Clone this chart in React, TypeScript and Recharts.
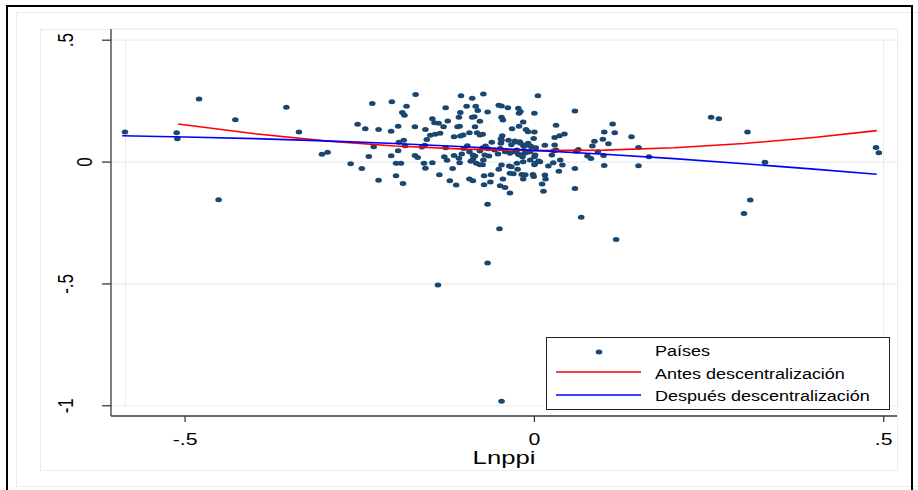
import React from 'react';
import { ScatterChart, Scatter, XAxis, YAxis, CartesianGrid } from 'recharts';

// Lnppi (x) vs. residual (y), one dot per country
const paises: [number, number][] = [
  [-0.586, 0.123], [-0.512, 0.120], [-0.511, 0.096], [-0.480, 0.259], [-0.428, 0.174], [-0.452, -0.155],
  [-0.355, 0.225], [-0.337, 0.123], [-0.304, 0.032], [-0.296, 0.040],
  [-0.170, 0.277], [-0.105, 0.272], [-0.089, 0.262], [-0.073, 0.279], [0.005, 0.272], [-0.232, 0.240],
  [-0.204, 0.247], [-0.183, 0.229], [-0.189, 0.203], [-0.186, 0.192], [-0.127, 0.223], [-0.097, 0.229],
  [-0.084, 0.229], [-0.081, 0.212], [-0.106, 0.203], [-0.108, 0.184], [-0.089, 0.184], [-0.086, 0.186],
  [-0.067, 0.205], [-0.051, 0.233], [-0.047, 0.230], [-0.038, 0.223], [-0.023, 0.221], [-0.022, 0.200],
  [-0.020, 0.207], [0.000, 0.200], [-0.047, 0.184], [-0.045, 0.173], [0.058, 0.210], [-0.146, 0.178],
  [-0.143, 0.161], [-0.137, 0.159], [-0.124, 0.168], [-0.130, 0.145], [-0.078, 0.167], [-0.110, 0.145],
  [-0.107, 0.147], [-0.085, 0.145], [-0.253, 0.155], [-0.242, 0.137], [-0.223, 0.134], [-0.205, 0.126],
  [-0.195, 0.147], [-0.171, 0.145], [-0.156, 0.134], [-0.154, 0.093], [-0.149, 0.110], [-0.142, 0.114],
  [-0.135, 0.118], [-0.115, 0.104], [-0.106, 0.107], [-0.102, 0.111], [-0.093, 0.120], [-0.078, 0.111],
  [-0.074, 0.114], [-0.082, 0.120], [-0.032, 0.137], [-0.022, 0.147], [-0.016, 0.164], [-0.012, 0.134],
  [-0.009, 0.124], [0.000, 0.123], [0.031, 0.151], [0.029, 0.101], [0.043, 0.115], [0.036, 0.108],
  [0.112, 0.156], [0.100, 0.123], [0.115, 0.120], [0.098, 0.094], [0.106, 0.075], [0.086, 0.085],
  [0.083, 0.066],
  [-0.194, 0.081], [-0.187, 0.090], [-0.230, 0.063], [-0.195, 0.046], [-0.185, 0.067], [-0.205, 0.026],
  [-0.237, 0.023], [-0.171, 0.027], [-0.167, 0.019], [-0.161, 0.062], [-0.157, 0.069], [-0.127, 0.059],
  [-0.129, 0.022], [-0.125, 0.007], [-0.115, 0.027], [-0.104, 0.033], [-0.108, 0.016], [-0.101, 0.056],
  [-0.096, 0.067], [-0.093, 0.042], [-0.088, 0.012], [-0.085, 0.025], [-0.091, 0.003], [-0.078, 0.045],
  [-0.074, 0.059], [-0.070, 0.066], [-0.066, 0.055], [-0.061, 0.081], [-0.065, 0.025], [-0.057, 0.049],
  [-0.052, 0.033], [-0.048, 0.096], [-0.046, 0.108], [-0.048, 0.077], [-0.037, 0.090], [-0.033, 0.071],
  [-0.027, 0.082], [-0.025, 0.049], [-0.020, 0.077], [-0.015, 0.064], [-0.023, 0.032], [-0.017, 0.022],
  [-0.010, 0.040], [-0.006, 0.066], [-0.001, 0.097], [0.002, 0.059], [0.000, 0.022], [0.006, 0.004],
  [0.015, 0.069], [0.025, 0.029], [0.028, 0.046], [0.037, 0.008], [0.063, 0.052], [0.060, 0.044],
  [0.076, 0.025], [0.081, 0.015], [0.091, 0.042], [0.099, 0.027], [0.058, -0.026], [0.100, -0.014],
  [-0.263, -0.007], [-0.247, -0.026], [-0.223, -0.075], [-0.198, -0.005], [-0.191, -0.005], [-0.198, -0.056],
  [-0.188, -0.088], [-0.158, -0.005], [-0.156, -0.025], [-0.146, -0.003], [-0.136, -0.052], [-0.121, -0.077],
  [-0.112, -0.094], [-0.117, -0.026], [-0.107, -0.003], [-0.093, -0.070], [-0.088, -0.077], [-0.078, -0.011],
  [-0.074, -0.011], [-0.072, -0.056], [-0.072, -0.093], [-0.062, -0.052], [-0.063, -0.082], [-0.051, -0.029],
  [-0.045, -0.069], [-0.049, -0.097], [-0.042, -0.104], [-0.035, -0.127], [-0.036, -0.016], [-0.030, -0.048],
  [-0.024, -0.030], [-0.016, -0.069], [-0.013, -0.052], [-0.001, -0.059], [0.000, -0.011], [0.008, 0.001],
  [0.015, -0.053], [0.016, -0.070], [0.011, -0.090], [0.013, -0.120], [0.035, -0.038], [0.040, -0.012],
  [0.058, -0.108], [0.067, -0.226], [0.117, -0.318], [-0.067, -0.173], [-0.050, -0.274], [-0.067, -0.414],
  [-0.047, 0.090], [-0.028, 0.086], [-0.021, 0.083], [-0.016, 0.070], [-0.009, 0.077], [-0.004, 0.063],
  [-0.042, 0.042], [-0.035, 0.036], [-0.028, 0.042], [-0.021, 0.029], [-0.014, 0.036], [-0.006, 0.042],
  [0.001, 0.029], [-0.049, 0.056], [-0.025, -0.005], [-0.016, 0.001], [-0.006, 0.008], [0.001, -0.005],
  [-0.033, -0.019], [-0.047, -0.012], [-0.071, 0.029], [-0.088, 0.029], [-0.083, -0.005], [-0.073, 0.008],
  [-0.035, -0.046], [-0.018, -0.051], [-0.002, -0.051],
  [0.139, 0.104], [0.029, 0.070], [0.031, 0.049], [0.027, -0.003], [0.020, -0.016], [0.149, 0.060],
  [0.149, -0.015], [0.164, 0.022],
  [0.253, 0.184], [0.264, 0.178], [0.305, 0.123], [0.330, -0.001], [0.309, -0.156], [0.300, -0.211],
  [0.489, 0.060], [0.493, 0.038],
  [-0.138, -0.504], [-0.047, -0.981],
];

// fitted curves
const antes: [number, number][] = [
  [-0.51, 0.156], [-0.4, 0.116], [-0.3, 0.087], [-0.2, 0.066], [-0.1, 0.053], [0, 0.047],
  [0.1, 0.049], [0.2, 0.059], [0.3, 0.076], [0.4, 0.101], [0.49, 0.129],
];
const despues: [number, number][] = [
  [-0.59, 0.108], [-0.5, 0.103], [-0.4, 0.096], [-0.3, 0.087], [-0.2, 0.076], [-0.1, 0.063], [0, 0.048],
  [0.1, 0.032], [0.2, 0.014], [0.3, -0.007], [0.4, -0.029], [0.49, -0.05],
];

const xTicks = [-0.5, 0, 0.5];
const yTicks = [-1, -0.5, 0, 0.5];
const legendLabels = ['Países', 'Antes descentralización', 'Después descentralización'];

const NAVY = '#1a476f';
const LIGHT = '#e6eef0';
const AXIS = '#3a3a3a';
const FONT = "'Liberation Sans', Arial, Helvetica, sans-serif";

const fmt = (v: number) => (v === 0 ? '0' : (v < 0 ? '-' : '') + String(Math.abs(v)).replace(/^0/, ''));
const toXY = (arr: [number, number][]) => arr.map(([x, y]) => ({ x, y }));

const Dot = (p: any) => <ellipse cx={p.cx} cy={p.cy} rx={3.3} ry={2.5} fill={NAVY} />;
const NoDot = () => <g />;

const XTick = (p: any) => (
  <text
    transform={`translate(${p.x},${p.y + 21}) scale(1.25,1)`}
    textAnchor="middle"
    fontSize={17}
    fontFamily={FONT}
    fill="#000"
  >
    {fmt(p.payload.value)}
  </text>
);

const YTick = (p: any) => {
  const v = p.payload.value;
  const base = v === 0 ? p.x - 8 : p.x - 27;
  return (
    <text
      transform={`translate(${base},${p.y}) scale(1.3,1) rotate(-90)`}
      textAnchor="middle"
      fontSize={17}
      fontFamily={FONT}
      fill="#000"
    >
      {fmt(v)}
    </text>
  );
};

const XTitle = (p: any) => {
  const vb = p.viewBox || {};
  return (
    <text
      transform={`translate(${vb.x + vb.width / 2},${vb.y + 48}) scale(1.35,1)`}
      textAnchor="middle"
      fontSize={19}
      fontFamily={FONT}
      fill="#000"
    >
      Lnppi
    </text>
  );
};

const box = (left: number, top: number, width: number, height: number, border: string): React.CSSProperties => ({
  position: 'absolute', left, top, width, height, border, boxSizing: 'border-box',
});

export default function App() {
  return (
    <div style={{ position: 'absolute', left: 0, top: 0, width: 918, height: 490, background: '#fff', overflow: 'hidden' }}>
      <div style={box(16, 12, 920, 475, `1px solid ${LIGHT}`)} />
      <div style={box(40, 29, 858, 442, `1px solid ${LIGHT}`)} />
      <div style={{ position: 'absolute', left: 125, top: 40, width: 1, height: 366, background: LIGHT }} />
      <div style={{ position: 'absolute', left: 883, top: 40, width: 1, height: 366, background: LIGHT }} />
      <div style={box(6, 5, 907, 495, '2px solid #000')} />

      <div style={{ position: 'absolute', left: 0, top: 0 }}>
        <ScatterChart width={918} height={490} margin={{ top: 29, right: 21, bottom: 34, left: 51 }}>
          <CartesianGrid vertical={false} stroke={LIGHT} strokeWidth={1.2} />
          <XAxis
            type="number"
            dataKey="x"
            domain={[-0.606, 0.519]}
            allowDataOverflow
            ticks={xTicks}
            height={40}
            tickSize={6}
            axisLine={{ stroke: AXIS, strokeWidth: 1.3 }}
            tickLine={{ stroke: AXIS, strokeWidth: 1.3 }}
            tick={<XTick />}
            label={(p: any) => <XTitle {...p} />}
          />
          <YAxis
            type="number"
            dataKey="y"
            domain={[-1.042, 0.546]}
            allowDataOverflow
            ticks={yTicks}
            width={60}
            tickSize={9}
            axisLine={{ stroke: AXIS, strokeWidth: 1.3 }}
            tickLine={{ stroke: AXIS, strokeWidth: 1.3 }}
            tick={<YTick />}
          />
          <Scatter data={toXY(paises)} shape={<Dot />} isAnimationActive={false} />
          <Scatter
            data={toXY(antes)}
            shape={<NoDot />}
            line={{ stroke: '#ff0000', strokeWidth: 1.6 }}
            lineType="joint"
            isAnimationActive={false}
          />
          <Scatter
            data={toXY(despues)}
            shape={<NoDot />}
            line={{ stroke: '#0000ff', strokeWidth: 1.6 }}
            lineType="joint"
            isAnimationActive={false}
          />
        </ScatterChart>
      </div>

      <div style={{ ...box(546, 337, 344, 73, '1px solid #222'), background: '#fff' }}>
        <svg width={344} height={73} style={{ position: 'absolute', left: -1, top: -1 }}>
          <ellipse cx={53} cy={15} rx={3.3} ry={2.5} fill={NAVY} />
          <line x1={10} x2={95} y1={35} y2={35} stroke="#ff0000" strokeWidth={1.6} />
          <line x1={10} x2={95} y1={58} y2={58} stroke="#0000ff" strokeWidth={1.6} />
          {legendLabels.map((t, i) => (
            <text
              key={t}
              transform={`translate(109,${19 + i * 22.5}) scale(1.2,1)`}
              fontSize={15}
              fontFamily={FONT}
              fill="#000"
            >
              {t}
            </text>
          ))}
        </svg>
      </div>
    </div>
  );
}
